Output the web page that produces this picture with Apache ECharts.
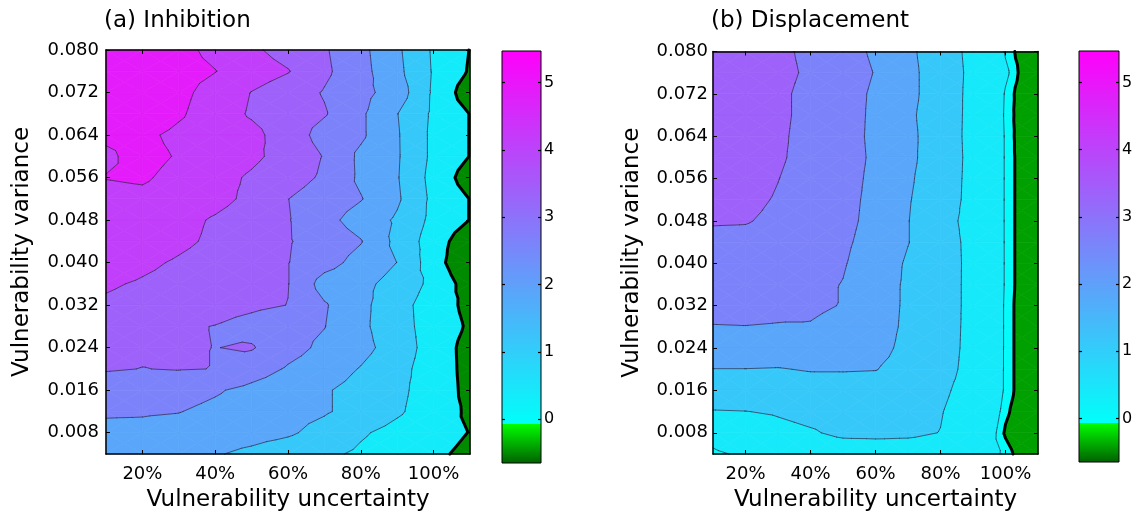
<!DOCTYPE html>
<html><head><meta charset="utf-8">
<script src="https://cdn.jsdelivr.net/npm/echarts@6/dist/echarts.min.js"></script>
<style>html,body{margin:0;padding:0;background:#fff}#chart{width:1137px;height:517px}</style>
</head><body><div id="chart"></div>
<script>
// ---------------- data ----------------
const uncertainty = [10, 20, 30, 40, 50, 60, 70, 80, 90, 100, 110];           // x, %
const variance = [0.080, 0.076, 0.072, 0.068, 0.064, 0.060, 0.056, 0.052, 0.048, 0.044,
                  0.040, 0.036, 0.032, 0.028, 0.024, 0.020, 0.016, 0.012, 0.008, 0.004]; // rows, top -> bottom

// (a) Inhibition, one row per variance value, one column per uncertainty value
const inhibition = [
  [5.2, 5.0, 4.7, 4.32, 3.88, 3.47, 3.08, 2.45, 1.63, 0.65, -0.02],
  [5.25, 5.0, 4.75, 4.52, 4.11, 3.79, 3.14, 2.5, 1.69, 0.68, -0.07],
  [5.3, 5.0, 4.69, 4.22, 3.73, 3.36, 2.95, 2.48, 1.9, 0.64, -0.43],
  [5.3, 5.0, 4.6, 4.11, 3.67, 3.37, 3.06, 2.37, 1.52, 0.62, -0.02],
  [4.6, 4.65, 4.34, 4.12, 3.95, 3.4, 2.72, 2.37, 1.57, 0.58, -0.02],
  [4.4, 4.7, 4.45, 4.17, 3.89, 3.49, 2.96, 2.1, 1.58, 0.58, -0.02],
  [4.52, 4.58, 4.31, 3.99, 3.66, 3.31, 2.89, 2.12, 1.55, 0.5, -0.35],
  [4.3, 4.35, 4.2, 3.98, 3.58, 3.01, 2.64, 2.29, 1.61, 0.57, -0.02],
  [4.25, 4.2, 3.98, 3.67, 3.36, 3.04, 2.48, 1.94, 1.4, 0.55, -0.02],
  [4.2, 4.15, 3.9, 3.62, 3.34, 3.05, 2.68, 2.29, 1.3, 0.38, -0.5],
  [4.1, 3.89, 3.67, 3.45, 3.24, 3.02, 2.52, 2.0, 1.49, 0.34, -0.7],
  [3.83, 3.68, 3.52, 3.35, 3.18, 3.02, 1.95, 1.7, 1.22, 0.56, -0.35],
  [3.65, 3.52, 3.4, 3.28, 3.14, 2.99, 2.32, 1.69, 1.02, 0.4, -0.2],
  [3.3, 3.2, 3.1, 2.98, 2.75, 2.51, 2.27, 1.66, 1.03, 0.44, -0.1],
  [3.15, 3.1, 3.08, 2.99, 3.06, 2.5, 2.1, 1.73, 1.16, 0.41, -0.25],
  [3.05, 2.99, 3.03, 2.99, 2.58, 2.18, 1.89, 1.46, 0.98, 0.41, -0.23],
  [2.65, 2.6, 2.5, 2.32, 2.07, 1.82, 1.57, 1.25, 0.91, 0.42, -0.2],
  [2.32, 2.31, 2.27, 2.1, 1.93, 1.75, 1.57, 1.25, 0.85, 0.38, -0.12],
  [2.1, 2.08, 2.0, 1.85, 1.75, 1.6, 1.25, 0.83, 0.53, 0.26, -0.02],
  [1.85, 1.75, 1.65, 1.55, 1.35, 1.1, 0.88, 0.64, 0.4, 0.12, -0.15]
];

// (b) Displacement
const displacement = [
  [3.5, 3.35, 3.12, 2.88, 2.53, 2.14, 1.65, 1.1, 0.57, 0.08, -0.2],
  [3.5, 3.36, 3.14, 2.92, 2.59, 2.22, 1.7, 1.12, 0.6, 0.14, -0.22],
  [3.48, 3.32, 3.1, 2.86, 2.52, 2.15, 1.7, 1.12, 0.58, 0.08, -0.22],
  [3.46, 3.3, 3.1, 2.86, 2.52, 2.13, 1.64, 1.1, 0.58, 0.07, -0.2],
  [3.44, 3.28, 3.08, 2.84, 2.5, 2.12, 1.68, 1.1, 0.57, 0.08, -0.22],
  [3.42, 3.26, 3.06, 2.84, 2.52, 2.14, 1.66, 1.12, 0.58, 0.08, -0.2],
  [3.38, 3.2, 3.01, 2.8, 2.5, 2.1, 1.6, 1.1, 0.57, 0.08, -0.2],
  [3.3, 3.12, 2.96, 2.72, 2.45, 2.08, 1.55, 1.08, 0.56, 0.08, -0.2],
  [3.04, 3.03, 2.9, 2.68, 2.42, 2.06, 1.52, 0.98, 0.55, 0.08, -0.2],
  [2.87, 2.85, 2.78, 2.62, 2.36, 2.0, 1.52, 1.05, 0.57, 0.08, -0.2],
  [2.71, 2.7, 2.64, 2.5, 2.3, 1.9, 1.42, 1.06, 0.58, 0.08, -0.2],
  [2.55, 2.55, 2.5, 2.4, 2.23, 1.82, 1.4, 1.05, 0.58, 0.08, -0.2],
  [2.4, 2.4, 2.37, 2.33, 2.23, 1.8, 1.4, 1.05, 0.58, 0.07, -0.2],
  [2.23, 2.24, 2.22, 2.22, 2.1, 1.78, 1.38, 1.03, 0.58, 0.07, -0.2],
  [1.85, 1.86, 1.86, 1.86, 1.84, 1.7, 1.34, 1.02, 0.57, 0.07, -0.2],
  [1.49, 1.49, 1.47, 1.54, 1.54, 1.52, 1.28, 0.98, 0.55, 0.07, -0.2],
  [1.1, 1.12, 1.15, 1.2, 1.22, 1.2, 1.12, 0.86, 0.52, 0.07, -0.2],
  [0.72, 0.74, 0.8, 0.9, 0.95, 0.95, 0.92, 0.78, 0.45, 0.03, -0.2],
  [0.25, 0.45, 0.6, 0.7, 0.85, 0.86, 0.84, 0.74, 0.4, -0.02, -0.22],
  [0.04, 0.16, 0.3, 0.4, 0.45, 0.48, 0.48, 0.45, 0.3, 0.06, -0.2]
];

const levelsInhibition = [0, 0.75, 1.5, 2.25, 3.0, 3.75, 4.5];
const levelsDisplacement = [0, 0.1, 0.75, 1.5, 2.25, 3.0, 3.75, 4.5];
const xTickValues = [20, 40, 60, 80, 100];
const yTickValues = [0.008, 0.016, 0.024, 0.032, 0.040, 0.048, 0.056, 0.064, 0.072, 0.080];
const colorbarTicks = [0, 1, 2, 3, 4, 5];
const colorbarRange = [-0.65, 5.47];
const panelTitles = ['(a) Inhibition', '(b) Displacement'];
const xName = 'Vulnerability uncertainty';
const yName = 'Vulnerability variance';

// ---------------- styles / helpers ----------------
const FONT = 'DejaVu Sans';
const CYAN_START = -0.06;
function cmap(v) {
  if (v < CYAN_START) {
    const t = Math.max(0, Math.min(1, (v - colorbarRange[0]) / (CYAN_START - colorbarRange[0])));
    return 'rgb(0,' + Math.round(96 + t * 159) + ',0)';
  }
  const t = Math.max(0, Math.min(1, (v - CYAN_START) / (colorbarRange[1] - CYAN_START)));
  return 'rgb(' + Math.round(t * 255) + ',' + Math.round((1 - t) * 255) + ',250)';
}
function bandColors(levels, green) {
  const cols = [green];
  for (let i = 0; i < levels.length; i++) {
    const lo = levels[i];
    const hi = i + 1 < levels.length ? levels[i + 1] : lo + (lo - levels[i - 1]);
    cols.push(cmap((lo + hi) / 2));
  }
  return cols;
}
function clip(poly, L, keepAbove) {
  const out = [];
  for (let i = 0; i < poly.length; i++) {
    const P = poly[i], Q = poly[(i + 1) % poly.length];
    const pin = keepAbove ? P[2] >= L : P[2] < L;
    const qin = keepAbove ? Q[2] >= L : Q[2] < L;
    if (pin) out.push(P);
    if (pin !== qin) {
      const t = (L - P[2]) / (Q[2] - P[2]);
      out.push([P[0] + t * (Q[0] - P[0]), P[1] + t * (Q[1] - P[1]), L]);
    }
  }
  return out;
}
function contourRenderer(values, levels, colors) {
  return function (params, api) {
    const nr = variance.length, nc = uncertainty.length;
    const P = [];
    for (let r = 0; r < nr; r++) {
      P.push([]);
      for (let c = 0; c < nc; c++) {
        const pt = api.coord([uncertainty[c], variance[r]]);
        P[r].push([pt[0], pt[1], values[r][c]]);
      }
    }
    const polys = [];
    let thin = '', thick = '';
    const f = n => n.toFixed(2);
    for (let r = 0; r < nr - 1; r++) {
      for (let c = 0; c < nc - 1; c++) {
        const a = P[r][c], b = P[r][c + 1], d = P[r + 1][c + 1], e = P[r + 1][c];
        const m = [(a[0] + b[0] + d[0] + e[0]) / 4, (a[1] + b[1] + d[1] + e[1]) / 4, (a[2] + b[2] + d[2] + e[2]) / 4];
        const tris = [[a, b, m], [b, d, m], [d, e, m], [e, a, m]];
        for (const tri of tris) {
          for (let k = 0; k <= levels.length; k++) {
            let poly = tri;
            if (k > 0) poly = clip(poly, levels[k - 1], true);
            if (poly.length >= 3 && k < levels.length) poly = clip(poly, levels[k], false);
            if (poly.length >= 3) {
              polys.push({
                type: 'polygon', silent: true,
                shape: { points: poly.map(p => [p[0], p[1]]) },
                style: { fill: colors[k], stroke: colors[k], lineWidth: 0.7 }
              });
            }
          }
          for (const L of levels) {
            const pts = [];
            for (let s = 0; s < 3; s++) {
              const U = tri[s], V = tri[(s + 1) % 3];
              if ((U[2] >= L) !== (V[2] >= L)) {
                const t = (L - U[2]) / (V[2] - U[2]);
                pts.push([U[0] + t * (V[0] - U[0]), U[1] + t * (V[1] - U[1])]);
              }
            }
            if (pts.length === 2) {
              const seg = 'M' + f(pts[0][0]) + ' ' + f(pts[0][1]) + 'L' + f(pts[1][0]) + ' ' + f(pts[1][1]);
              if (L === 0) thick += seg; else thin += seg;
            }
          }
        }
      }
    }
    const children = polys;
    if (thin) children.push({ type: 'path', silent: true, shape: { pathData: thin },
      style: { fill: null, stroke: '#262640', lineWidth: 0.8, opacity: 0.85, lineCap: 'round' } });
    if (thick) children.push({ type: 'path', silent: true, shape: { pathData: thick },
      style: { fill: null, stroke: '#000', lineWidth: 3, lineCap: 'round', lineJoin: 'round' } });
    return { type: 'group', children: children };
  };
}
function colorbarRender(params, api) {
  const tl = api.coord([0, colorbarRange[1]]);
  const br = api.coord([1, colorbarRange[0]]);
  const span = colorbarRange[1] - colorbarRange[0];
  const stops = [];
  const n = 80;
  for (let i = 0; i <= n; i++) {
    const v = colorbarRange[1] - i / n * (colorbarRange[1] - CYAN_START);
    stops.push({ offset: (colorbarRange[1] - v) / span, color: cmap(v) });
  }
  for (let i = 0; i <= 20; i++) {
    const v = CYAN_START - 1e-6 - i / 20 * (CYAN_START - colorbarRange[0] - 1e-6);
    stops.push({ offset: Math.min(1, (colorbarRange[1] - v) / span), color: cmap(v) });
  }
  return {
    type: 'rect', silent: true,
    shape: { x: tl[0], y: tl[1], width: br[0] - tl[0], height: br[1] - tl[1] },
    style: { fill: new echarts.graphic.LinearGradient(0, 0, 0, 1, stops), stroke: '#000', lineWidth: 1 }
  };
}

// ---------------- layout ----------------
const grids = [
  { left: 106, top: 50, width: 364, height: 411 },
  { left: 713, top: 51.5, width: 325, height: 408 },
  { left: 502, top: 51, width: 39, height: 412 },
  { left: 1079, top: 51, width: 40, height: 411 }
];
const AX = { color: '#000', width: 1.5 };
const labelStyle = { color: '#000', fontFamily: FONT, fontSize: 18 };

function mainX(grid, bottom) {
  return {
    type: 'value', gridIndex: grid, min: 10, max: 110, position: bottom ? 'bottom' : 'top', z: 10,
    axisLine: { show: true, onZero: false, lineStyle: AX },
    axisTick: { show: true, inside: true, length: 4, customValues: xTickValues, lineStyle: { color: '#000', width: 1 } },
    axisLabel: bottom ? Object.assign({ show: true, margin: 11, customValues: xTickValues, formatter: v => v + '%' }, labelStyle) : { show: false },
    splitLine: { show: false },
    name: bottom ? xName : '', nameLocation: 'middle', nameGap: 35,
    nameTextStyle: { color: '#000', fontFamily: FONT, fontSize: 23 }
  };
}
function mainY(grid, left, gap, margin) {
  return {
    type: 'value', gridIndex: grid, min: 0.004, max: 0.080, position: left ? 'left' : 'right', z: 10,
    axisLine: { show: true, onZero: false, lineStyle: AX },
    axisTick: { show: true, inside: true, length: 4, customValues: yTickValues, lineStyle: { color: '#000', width: 1 } },
    axisLabel: left ? Object.assign({ show: true, margin: margin, customValues: yTickValues, formatter: v => v.toFixed(3) }, labelStyle) : { show: false },
    splitLine: { show: false },
    name: left ? yName : '', nameLocation: 'middle', nameGap: gap,
    nameTextStyle: { color: '#000', fontFamily: FONT, fontSize: 23 }
  };
}
function cbX(grid) {
  return { type: 'value', gridIndex: grid, min: 0, max: 1, show: false };
}
function cbY(grid, right) {
  return {
    type: 'value', gridIndex: grid, min: colorbarRange[0], max: colorbarRange[1], position: right ? 'right' : 'left', z: 10,
    axisLine: { show: false, onZero: false },
    axisTick: { show: true, inside: true, length: 3, customValues: colorbarTicks, lineStyle: { color: '#000', width: 1.2 } },
    axisLabel: right ? { show: true, margin: 3, customValues: colorbarTicks, color: '#000', fontFamily: FONT, fontSize: 16 } : { show: false },
    splitLine: { show: false }
  };
}

const option = {
  backgroundColor: '#fff',
  animation: false,
  title: [
    { text: panelTitles[0], left: 104, top: 10, padding: 0, textStyle: { color: '#000', fontFamily: FONT, fontSize: 23, fontWeight: 'normal' } },
    { text: panelTitles[1], left: 711, top: 10, padding: 0, textStyle: { color: '#000', fontFamily: FONT, fontSize: 23, fontWeight: 'normal' } }
  ],
  grid: grids.map(g => Object.assign({ containLabel: false, show: false }, g)),
  xAxis: [mainX(0, true), mainX(0, false), mainX(1, true), mainX(1, false), cbX(2), cbX(3)],
  yAxis: [mainY(0, true, 72, 7), mainY(0, false), mainY(1, true, 69, 5), mainY(1, false),
          cbY(2, true), cbY(2, false), cbY(3, true), cbY(3, false)],
  series: [
    { type: 'custom', coordinateSystem: 'cartesian2d', xAxisIndex: 0, yAxisIndex: 0, silent: true,
      data: [[uncertainty[0], variance[0]]],
      renderItem: contourRenderer(inhibition, levelsInhibition, bandColors(levelsInhibition, '#008a00')) },
    { type: 'custom', coordinateSystem: 'cartesian2d', xAxisIndex: 2, yAxisIndex: 2, silent: true,
      data: [[uncertainty[0], variance[0]]],
      renderItem: contourRenderer(displacement, levelsDisplacement, bandColors(levelsDisplacement, '#00a000')) },
    { type: 'custom', coordinateSystem: 'cartesian2d', xAxisIndex: 4, yAxisIndex: 4, silent: true,
      data: [[0, colorbarRange[0]]], renderItem: colorbarRender },
    { type: 'custom', coordinateSystem: 'cartesian2d', xAxisIndex: 5, yAxisIndex: 6, silent: true,
      data: [[0, colorbarRange[0]]], renderItem: colorbarRender }
  ]
};
const chart = echarts.init(document.getElementById('chart'), null, { renderer: 'canvas' });
chart.setOption(option);
</script>
</body></html>
